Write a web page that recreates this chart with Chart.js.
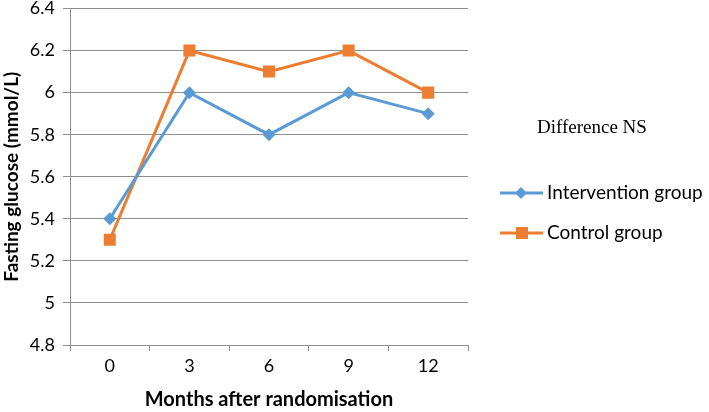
<!DOCTYPE html>
<html>
<head>
<meta charset="utf-8">
<script src="https://cdn.jsdelivr.net/npm/chart.js@4"></script>
<style>
  html, body { margin: 0; padding: 0; background: #fff; }
  #wrap { width: 709px; height: 412px; }
</style>
</head>
<body>
<div id="wrap"><canvas id="glucoseChart" width="709" height="412"></canvas></div>
<script>
const months = ['0', '3', '6', '9', '12'];
const interventionGroup = [5.4, 6.0, 5.8, 6.0, 5.9];
const controlGroup = [5.3, 6.2, 6.1, 6.2, 6.0];
const yMin = 4.8, yMax = 6.4, yStep = 0.2;
const note = 'Difference NS';

const gridGray = '#8e8e8e';
const fontFam = 'Lato, "Open Sans", sans-serif';

// legend on the right, drawn by hand (line + marker like the original)
const sideLegend = {
  id: 'sideLegend',
  afterDraw(chart) {
    const ctx = chart.ctx;
    ctx.save();
    ctx.fillStyle = '#000';
    ctx.font = '19px "Liberation Serif", "DejaVu Serif", serif';
    ctx.textBaseline = 'middle';
    ctx.fillText(note, 537, 128);

    chart.data.datasets.forEach((ds, i) => {
      const y = 193 + i * 40;
      ctx.strokeStyle = ds.borderColor;
      ctx.lineWidth = 3;
      ctx.beginPath();
      ctx.moveTo(500, y);
      ctx.lineTo(543, y);
      ctx.stroke();
      ctx.fillStyle = ds.backgroundColor;
      ctx.beginPath();
      if (ds.pointStyle === 'rect') {
        ctx.rect(516, y - 6, 12, 12);
      } else {
        ctx.moveTo(521, y - 6);
        ctx.lineTo(527, y);
        ctx.lineTo(521, y + 6);
        ctx.lineTo(515, y);
        ctx.closePath();
      }
      ctx.fill();
      ctx.fillStyle = '#000';
      ctx.font = '19px ' + fontFam;
      ctx.fillText(ds.label, 547, y);
    });
    ctx.restore();
  }
};

new Chart(document.getElementById('glucoseChart'), {
  type: 'line',
  data: {
    labels: months,
    datasets: [
      {
        label: 'Intervention group',
        data: interventionGroup,
        borderColor: '#5b9bd5',
        backgroundColor: '#5b9bd5',
        borderWidth: 3,
        pointStyle: 'rectRot',
        pointRadius: 6.5,
        pointBorderWidth: 0,
        tension: 0
      },
      {
        label: 'Control group',
        data: controlGroup,
        borderColor: '#ed7d31',
        backgroundColor: '#ed7d31',
        borderWidth: 3,
        pointStyle: 'rect',
        pointRadius: 8.5,
        pointBorderWidth: 0,
        tension: 0
      }
    ]
  },
  options: {
    responsive: false,
    animation: false,
    layout: { padding: { left: 0, right: 241, top: 0, bottom: 0 } },
    plugins: {
      legend: { display: false },
      tooltip: { enabled: false }
    },
    scales: {
      x: {
        offset: true,
        grid: { offset: true, drawOnChartArea: false, drawTicks: true, tickLength: 6, color: gridGray },
        border: { color: gridGray },
        ticks: { color: '#000', font: { family: fontFam, size: 18 }, padding: 4 },
        title: { display: true, text: 'Months after randomisation', color: '#000', font: { family: fontFam, size: 20, weight: 'bold' }, padding: { top: 6, bottom: 0 } },
        afterFit(scale) { scale.height = 67; }
      },
      y: {
        min: yMin,
        max: yMax,
        ticks: {
          stepSize: yStep,
          color: '#000',
          font: { family: fontFam, size: 18 },
          padding: 8,
          callback: v => String(+v.toFixed(1))
        },
        grid: { color: gridGray, tickLength: 7 },
        border: { color: gridGray },
        title: { display: true, text: 'Fasting glucose (mmol/L)', color: '#000', font: { family: fontFam, size: 19, weight: 'bold' }, padding: { top: 0, bottom: 0 } },
        afterFit(scale) {
          scale.width = 70;
          scale.paddingTop = 8;
          scale.paddingBottom = 0;
        }
      }
    }
  },
  plugins: [sideLegend]
});
</script>
</body>
</html>
